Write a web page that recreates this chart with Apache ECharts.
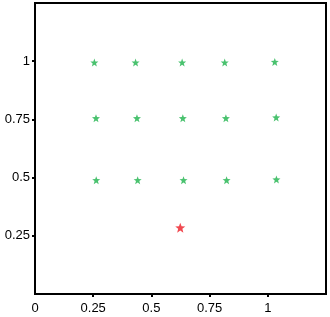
<!DOCTYPE html>
<html><head><meta charset="utf-8">
<script src="https://cdn.jsdelivr.net/npm/echarts@6/dist/echarts.min.js"></script>
<style>html,body{margin:0;padding:0;background:#fff}#c{width:330px;height:317px}</style>
</head><body><div id="c"></div>
<script>
var greenX = [0.255, 0.432, 0.632, 0.815, 1.030,
              0.262, 0.438, 0.635, 0.820, 1.036,
              0.263, 0.441, 0.638, 0.823, 1.037];
var greenY = [0.994, 0.994, 0.994, 0.994, 0.997,
              0.755, 0.755, 0.755, 0.755, 0.758,
              0.489, 0.489, 0.489, 0.489, 0.492];
var redX = [0.624];
var redY = [0.285];
var xTickLabels = [0, 0.25, 0.5, 0.75, 1];
var yTickLabels = [0.25, 0.5, 0.75, 1];

var star = 'path://M50,0 L63,34 L100,36 L71,59 L81,96 L50,75 L19,96 L29,59 L0,36 L37,34 Z';
function pairs(xs, ys){ return xs.map(function(x,i){return [x, ys[i]];}); }

var chart = echarts.init(document.getElementById('c'), null, {renderer:'canvas'});
var font = {fontFamily:'Liberation Sans, Arial, sans-serif', fontSize:13, color:'#000'};
chart.setOption({
  animation:false,
  grid:{left:35, right:4, top:3, bottom:23, show:true, borderColor:'#000', borderWidth:2},
  xAxis:{type:'value', min:0, max:1.25, interval:0.25,
    splitLine:{show:false},
    axisLine:{onZero:false, lineStyle:{color:'#000', width:2}},
    axisTick:{show:true, length:3, lineStyle:{color:'#000', width:2}, customValues:[0.25,0.5,0.75,1]},
    axisLabel:Object.assign({margin:8, customValues:xTickLabels, formatter:function(v){return String(v);}}, font)
  },
  yAxis:{type:'value', min:0, max:1.25, interval:0.25,
    splitLine:{show:false},
    axisLine:{onZero:false, lineStyle:{color:'#000', width:2}},
    axisTick:{show:true, length:3, lineStyle:{color:'#000', width:2}, customValues:yTickLabels},
    axisLabel:Object.assign({margin:5, customValues:yTickLabels, formatter:function(v){return String(v);}}, font)
  },
  series:[
    {type:'scatter', data:pairs(greenX, greenY), symbol:star, symbolSize:8, itemStyle:{color:'#1db34b'}},
    {type:'scatter', data:pairs(redX, redY), symbol:star, symbolSize:10, itemStyle:{color:'#ee1b24'}}
  ]
});
</script></body></html>
